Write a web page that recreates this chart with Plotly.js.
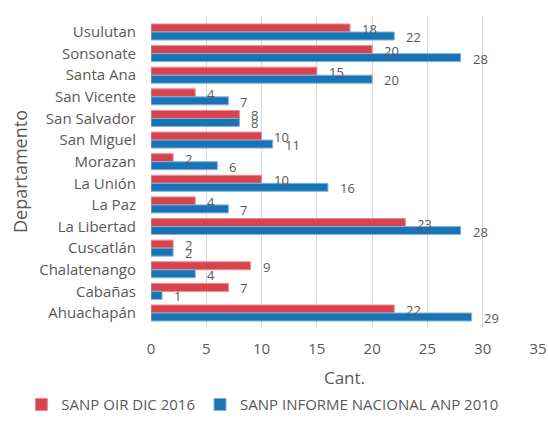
<!DOCTYPE html>
<html>
<head>
<meta charset="utf-8">
<script src="https://cdn.plot.ly/plotly-3.0.1.min.js"></script>
<style>html,body{margin:0;padding:0;background:#fff}#chart{width:548px;height:435px}</style>
</head>
<body>
<div id="chart"></div>
<script>
const departamentos = ["Usulutan","Sonsonate","Santa Ana","San Vicente","San Salvador","San Miguel","Morazan","La Unión","La Paz","La Libertad","Cuscatlán","Chalatenango","Cabañas","Ahuachapán"];
const oir2016 = [18,20,15,4,8,10,2,10,4,23,2,9,7,22];
const informe2010 = [22,28,20,7,8,11,6,16,7,28,2,4,1,29];
const xTicks = [0,5,10,15,20,25,30,35];

const txt = '#595959';
const font = 'Open Sans, sans-serif';

const traces = [
  {type:'bar', orientation:'h', name:'SANP OIR DIC 2016', y:departamentos, x:oir2016,
   marker:{color:'#d9434e', line:{color:'#e98a90', width:1}}, hoverinfo:'x'},
  {type:'bar', orientation:'h', name:'SANP INFORME NACIONAL ANP 2010', y:departamentos, x:informe2010,
   marker:{color:'#1a73b5', line:{color:'#7fb4dc', width:1}}, hoverinfo:'x'}
];

const annotations = [];
departamentos.forEach((d,i)=>{
  annotations.push({x:oir2016[i], y:d, xref:'x', yref:'y', text:String(oir2016[i]), showarrow:false,
    xanchor:'left', xshift:10, yshift:3, font:{family:font, size:13, color:txt}});
  annotations.push({x:informe2010[i], y:d, xref:'x', yref:'y', text:String(informe2010[i]), showarrow:false,
    xanchor:'left', xshift:10, yshift:-5, font:{family:font, size:13, color:txt}});
});

const layout = {
  width:548, height:435,
  margin:{l:151, r:10, t:16, b:108},
  paper_bgcolor:'#fff', plot_bgcolor:'#fff',
  barmode:'group', bargap:0.26, bargroupgap:0,
  font:{family:font, color:txt, size:15},
  showlegend:true,
  legend:{orientation:'h', xref:'paper', yref:'paper', x:-0.335, xanchor:'left', y:-0.25, yanchor:'middle',
    font:{family:font, size:15, color:txt}, itemwidth:30, bgcolor:'rgba(0,0,0,0)'},
  xaxis:{range:[0,35], tickvals:xTicks, ticktext:xTicks.map(String), showgrid:true, gridcolor:'#d9d9d9', gridwidth:1,
    zeroline:false, showline:false, ticks:'', ticklabelstandoff:11, tickfont:{family:font, size:15, color:txt},
    title:{text:'Cant.', font:{family:font, size:17, color:txt}, standoff:15}},
  yaxis:{type:'category', autorange:'reversed', showgrid:false, zeroline:false, showline:false, ticks:'',
    ticklabelstandoff:14, tickfont:{family:font, size:15, color:txt},
    title:{text:'Departamento', font:{family:font, size:18, color:txt}, standoff:6}},
  annotations:annotations
};

Plotly.newPlot('chart', traces, layout, {displayModeBar:false, staticPlot:true});
</script>
</body>
</html>
